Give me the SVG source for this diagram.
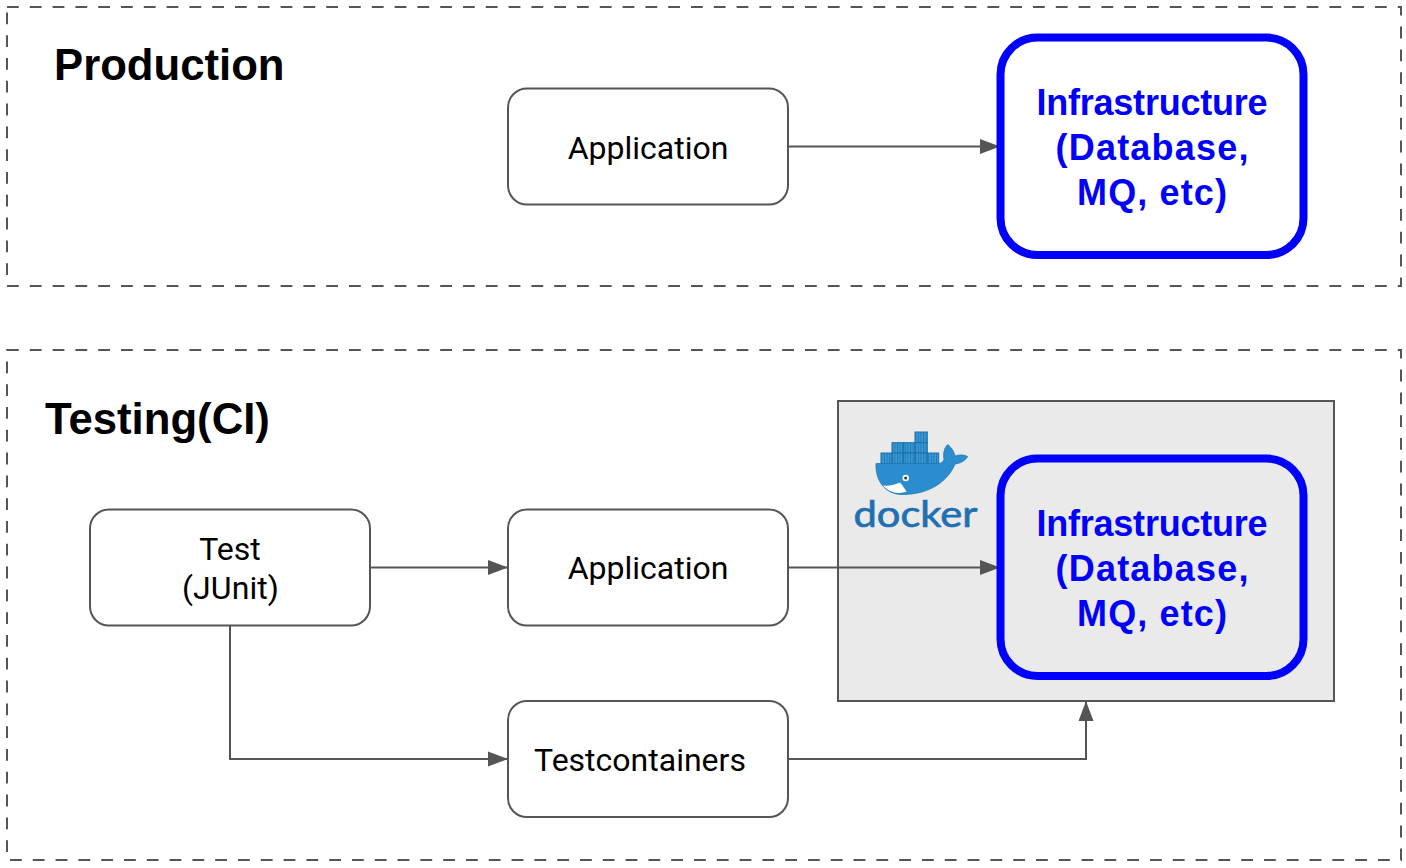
<svg xmlns="http://www.w3.org/2000/svg" width="1406" height="868" viewBox="0 0 1406 868">
<style>
.env{fill:none;stroke:#555;stroke-width:2;stroke-dasharray:11.800 11}
.box{fill:#fff;stroke:#555;stroke-width:2}
.infra{fill:#fff;stroke:#0000ff;stroke-width:8}
.lbl{font-family:Roboto,"Liberation Sans",sans-serif;font-size:32px;fill:#000;text-anchor:middle}
.title{font-family:"Liberation Sans",Arial,sans-serif;font-weight:700;font-size:43.700px;fill:#000}
.ilbl{font-family:"Liberation Sans",Arial,sans-serif;font-weight:700;font-size:36px;fill:#0000ff;text-anchor:middle}
.conn{fill:none;stroke:#555;stroke-width:2;marker-end:url(#arrow)}
.crate{fill:url(#slats);stroke:#1c70ac;stroke-width:1}
</style>
<defs>
<marker id="arrow" markerUnits="userSpaceOnUse" markerWidth="21" markerHeight="16" refX="20" refY="8" orient="auto">
<path d="M0 0.5L20 8L0 15.500Z" fill="#555"/>
</marker>
<pattern id="slats" patternUnits="userSpaceOnUse" width="2.600" height="12">
<rect width="2.600" height="12" fill="#3b9bd6"/>
<rect width="1" height="12" fill="#1f78b6"/>
</pattern>
</defs>
<g id="production-frame"><rect class="env" x="7" y="7" width="1394" height="279"/></g>
<g id="testing-frame"><rect class="env" x="7" y="350" width="1394" height="510"/></g>
<g id="docker-container"><rect x="838" y="401" width="496" height="300" fill="#eaeaea" stroke="#555" stroke-width="2"/></g>
<g id="production-title"><text class="title" x="54" y="80">Production</text></g>
<g id="testing-title"><text class="title" x="45" y="434">Testing(CI)</text></g>
<g id="docker-logo">
<rect class="crate" x="915" y="432" width="12.300" height="10.700"/>
<rect class="crate" x="892" y="442.700" width="11.700" height="10.300"/>
<rect class="crate" x="903.700" y="442.700" width="11.300" height="10.300"/>
<rect class="crate" x="915" y="442.700" width="12.300" height="10.300"/>
<rect class="crate" x="881" y="453" width="11" height="10.500"/>
<rect class="crate" x="892" y="453" width="11.700" height="10.500"/>
<rect class="crate" x="903.700" y="453" width="11.300" height="10.500"/>
<rect class="crate" x="915" y="453" width="12.300" height="10.500"/>
<rect class="crate" x="927.300" y="453" width="11.400" height="10.500"/>
<path fill="#2b8dcd" stroke="#1f78b6" stroke-width=".8" d="M876 463.500L938 463.500C941 463.500 943 462 944 459.500C943 454 944 448 947.700 444.500C951 447 954 451 955 456C959 454.500 964 454.500 967.700 456.500C965 461 960 463.500 955 464C948 481 930 494.500 902 494.500C885 494.500 875 480 876 463.500Z"/>
<path fill="#fff" d="M883 485.500C889 486 895 485 900 482.500C903 486 905 489 906.500 491.500C897 495 889 492 883 485.500Z"/>
<circle cx="905.700" cy="478" r="3.200" fill="#fff"/>
<circle cx="905.700" cy="478" r="1.500" fill="#27323a"/>
<text x="915.500" y="527" font-family="Lato,'Open Sans',sans-serif" font-size="37" fill="#1f6fb2" stroke="#1f6fb2" stroke-width=".7" text-anchor="middle" textLength="124" lengthAdjust="spacingAndGlyphs">docker</text>
</g>
<g id="connectors">
<path class="conn" d="M788 146.500H1000"/>
<path class="conn" d="M370 567.500H508"/>
<path class="conn" d="M788 567.500H1000"/>
<path class="conn" d="M230 626V759H508"/>
<path class="conn" d="M788 759H1086V701"/>
</g>
<g id="prod-application"><rect class="box" x="508" y="88.500" width="280" height="116" rx="19"/><text class="lbl" x="648" y="159">Application</text></g>
<g id="prod-infrastructure"><rect class="infra" x="1000.500" y="37.500" width="303" height="217.500" rx="37"/><text class="ilbl" x="1152" y="115" textLength="231">Infrastructure</text><text class="ilbl" x="1152" y="160" textLength="193">(Database,</text><text class="ilbl" x="1152" y="205" textLength="150">MQ, etc)</text></g>
<g id="test-junit"><rect class="box" x="90" y="509.500" width="280" height="116" rx="19"/><text class="lbl" x="230" y="559.500">Test</text><text class="lbl" x="230.500" y="599" textLength="97">(JUnit)</text></g>
<g id="test-application"><rect class="box" x="508" y="509.500" width="280" height="116" rx="19"/><text class="lbl" x="648" y="579">Application</text></g>
<g id="testcontainers"><rect class="box" x="508" y="701" width="280" height="116" rx="19"/><text class="lbl" x="640" y="771">Testcontainers</text></g>
<g id="test-infrastructure"><rect class="infra" style="fill:none" x="1000.500" y="458.500" width="303" height="217.500" rx="37"/><text class="ilbl" x="1152" y="536" textLength="231">Infrastructure</text><text class="ilbl" x="1152" y="581" textLength="193">(Database,</text><text class="ilbl" x="1152" y="626" textLength="150">MQ, etc)</text></g>
</svg>
